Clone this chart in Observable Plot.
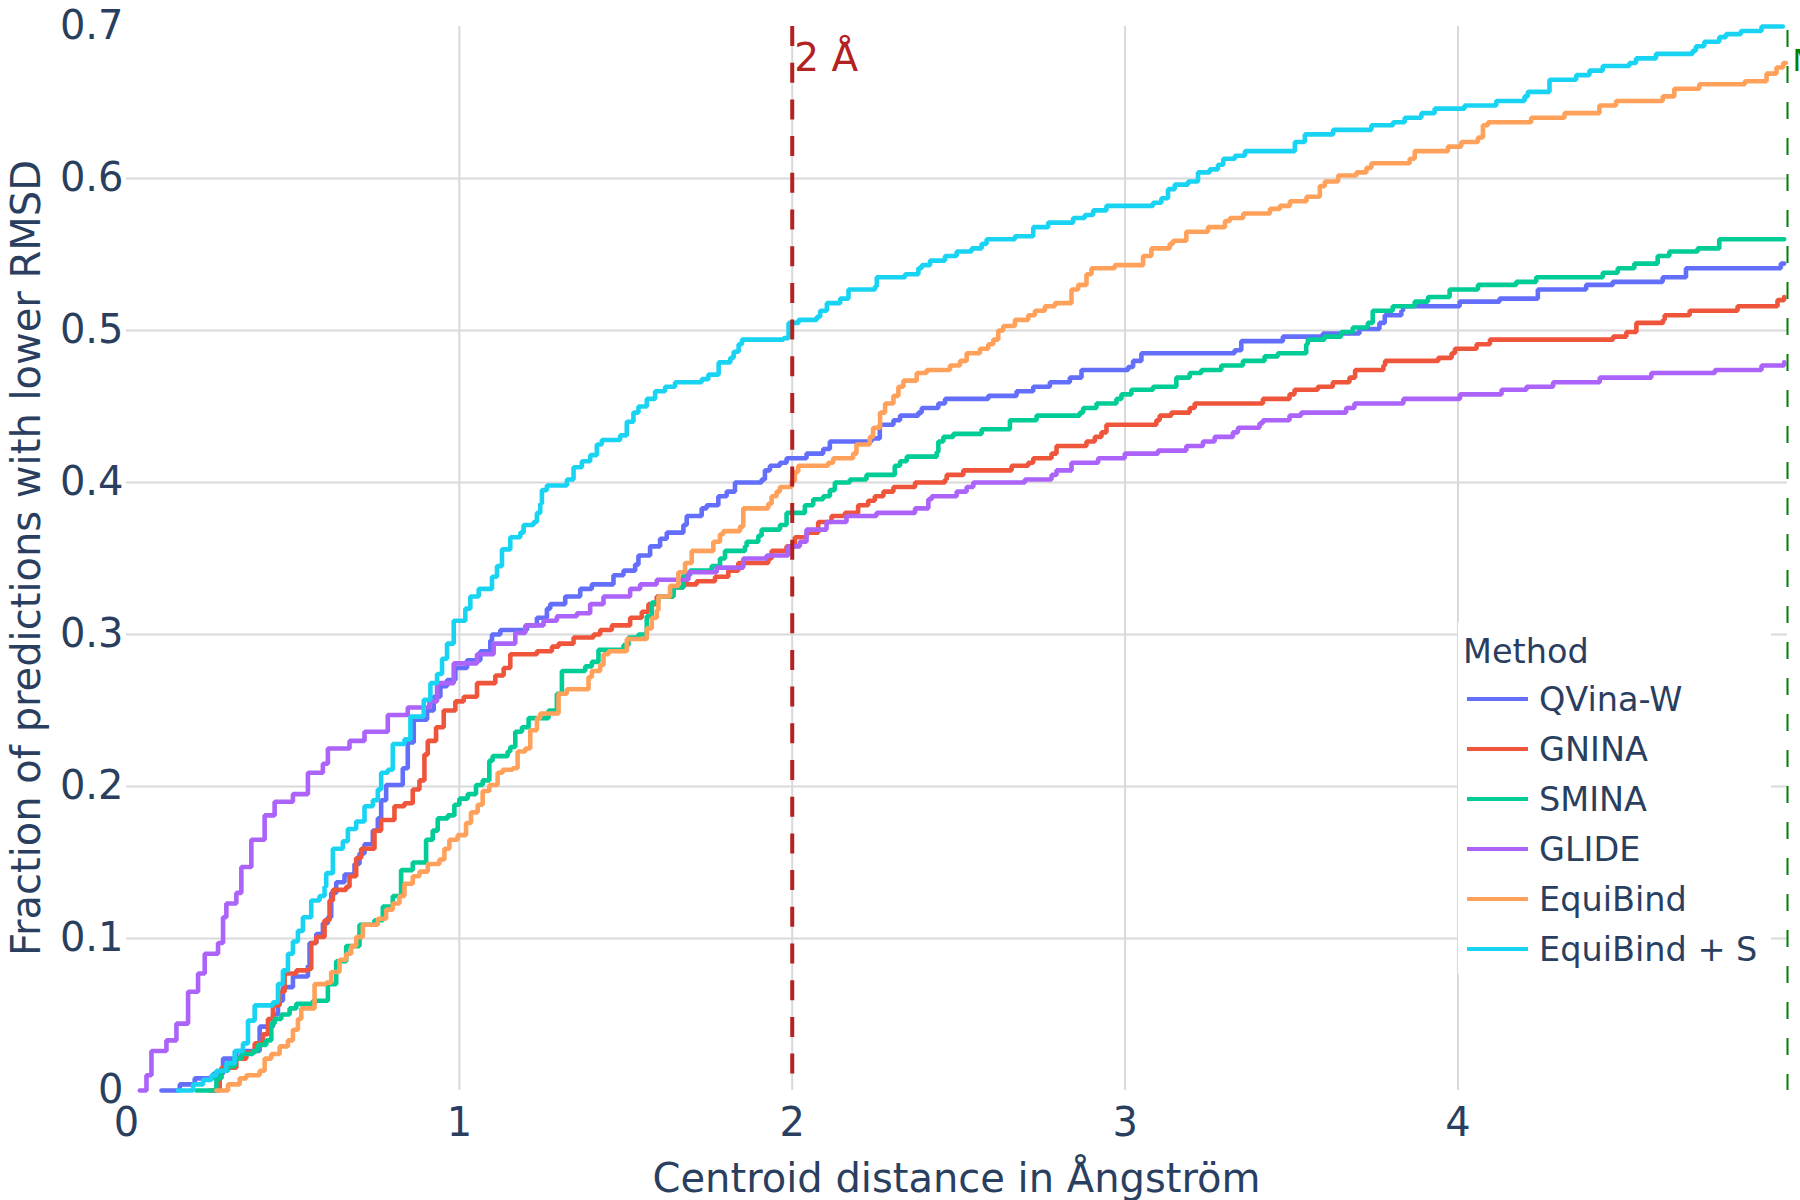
<!DOCTYPE html>
<html>
<head>
<meta charset="utf-8">
<script src="https://cdn.jsdelivr.net/npm/d3@7"></script>
<script src="https://cdn.jsdelivr.net/npm/@observablehq/plot@0.6"></script>
<style>
  html, body { margin: 0; padding: 0; background: white; overflow: hidden; }
  #chart svg { display: block; }
</style>
</head>
<body>
<div id="chart"></div>
<script>
// ---- data ----
const methods = ["QVina-W", "GNINA", "SMINA", "GLIDE", "EquiBind", "EquiBind + S"];
const colors = ["#636EFA", "#EF553B", "#00CC96", "#AB63FA", "#FFA15A", "#19D3F3"];
const xTicks = [0, 1, 2, 3, 4];
const yTicks = [0, 0.1, 0.2, 0.3, 0.4, 0.5, 0.6, 0.7];
const xGrid = [1, 2, 3, 4];
const yGrid = [0.1, 0.2, 0.3, 0.4, 0.5, 0.6];
const xDomain = [0, 4.99];
const yDomain = [0, 0.7];
const thresholds = [
  {x: 2, label: "2 Å"},
  {x: 4.99, label: "Max"}
];

const qvinaW = [[0.105,0],[0.16,0.004],[0.205,0.008],[0.26,0.011],[0.29,0.021],[0.33,0.026],[0.40,0.042],[0.44,0.05],[0.455,0.059],[0.47,0.068],[0.5,0.075],[0.545,0.082],[0.55,0.097],[0.57,0.103],[0.59,0.11],[0.605,0.114],[0.615,0.13],[0.63,0.137],[0.655,0.142],[0.685,0.149],[0.70,0.156],[0.715,0.162],[0.74,0.171],[0.755,0.179],[0.765,0.191],[0.78,0.201],[0.83,0.212],[0.845,0.229],[0.863,0.244],[0.903,0.25],[0.923,0.259],[0.943,0.266],[0.963,0.27],[0.988,0.278],[1.023,0.283],[1.063,0.289],[1.093,0.296],[1.098,0.3],[1.123,0.303],[1.203,0.306],[1.233,0.311],[1.263,0.317],[1.273,0.32],[1.318,0.325],[1.363,0.33],[1.398,0.333],[1.463,0.339],[1.493,0.342],[1.528,0.346],[1.538,0.352],[1.573,0.358],[1.603,0.363],[1.623,0.367],[1.673,0.372],[1.683,0.378],[1.728,0.383],[1.743,0.385],[1.778,0.391],[1.803,0.394],[1.828,0.4],[1.908,0.402],[1.918,0.408],[1.933,0.411],[1.963,0.413],[1.983,0.416],[2.043,0.419],[2.093,0.422],[2.113,0.427],[2.238,0.429],[2.263,0.438],[2.304,0.441],[2.324,0.444],[2.379,0.446],[2.389,0.449],[2.439,0.452],[2.459,0.455],[2.589,0.457],[2.674,0.46],[2.724,0.463],[2.774,0.466],[2.834,0.469],[2.869,0.474],[3.009,0.476],[3.024,0.48],[3.049,0.485],[3.329,0.487],[3.349,0.493],[3.474,0.496],[3.594,0.498],[3.704,0.501],[3.764,0.505],[3.78,0.51],[3.83,0.513],[3.835,0.516],[4.005,0.519],[4.125,0.521],[4.24,0.527],[4.385,0.53],[4.465,0.532],[4.615,0.535],[4.685,0.541],[4.97,0.544],[4.98,0.544]];

const gnina = [[0.25,0],[0.28,0.008],[0.285,0.015],[0.33,0.021],[0.36,0.025],[0.385,0.031],[0.41,0.037],[0.425,0.047],[0.44,0.056],[0.46,0.065],[0.475,0.077],[0.51,0.079],[0.545,0.08],[0.555,0.097],[0.57,0.101],[0.595,0.112],[0.61,0.125],[0.62,0.132],[0.66,0.134],[0.67,0.141],[0.69,0.153],[0.705,0.159],[0.745,0.171],[0.765,0.178],[0.805,0.187],[0.835,0.189],[0.86,0.198],[0.88,0.204],[0.895,0.221],[0.905,0.23],[0.93,0.239],[0.953,0.25],[0.988,0.256],[1.013,0.259],[1.053,0.268],[1.108,0.273],[1.133,0.278],[1.153,0.287],[1.233,0.289],[1.278,0.292],[1.298,0.294],[1.343,0.298],[1.403,0.3],[1.423,0.303],[1.458,0.306],[1.513,0.311],[1.548,0.315],[1.568,0.32],[1.593,0.325],[1.643,0.331],[1.673,0.333],[1.713,0.335],[1.768,0.338],[1.808,0.342],[1.838,0.347],[1.928,0.35],[1.938,0.355],[1.983,0.358],[2.008,0.364],[2.043,0.367],[2.078,0.374],[2.118,0.378],[2.158,0.38],[2.198,0.385],[2.228,0.388],[2.248,0.391],[2.274,0.394],[2.304,0.397],[2.369,0.4],[2.459,0.402],[2.464,0.405],[2.514,0.408],[2.659,0.411],[2.709,0.413],[2.724,0.416],[2.779,0.419],[2.794,0.424],[2.884,0.427],[2.909,0.43],[2.929,0.433],[2.944,0.438],[3.094,0.441],[3.104,0.444],[3.139,0.446],[3.194,0.449],[3.209,0.452],[3.414,0.455],[3.494,0.458],[3.509,0.461],[3.579,0.463],[3.624,0.466],[3.674,0.469],[3.691,0.474],[3.776,0.477],[3.781,0.48],[3.941,0.482],[3.981,0.485],[3.991,0.488],[4.056,0.491],[4.096,0.494],[4.466,0.496],[4.506,0.499],[4.536,0.505],[4.616,0.507],[4.621,0.51],[4.696,0.513],[4.84,0.516],[4.96,0.52],[4.98,0.522]];

const smina = [[0.21,0],[0.27,0.008],[0.285,0.013],[0.305,0.016],[0.325,0.021],[0.345,0.024],[0.38,0.026],[0.395,0.03],[0.42,0.033],[0.435,0.044],[0.445,0.047],[0.465,0.05],[0.49,0.054],[0.51,0.057],[0.56,0.059],[0.605,0.07],[0.63,0.085],[0.66,0.095],[0.70,0.109],[0.745,0.112],[0.77,0.121],[0.80,0.128],[0.825,0.145],[0.86,0.15],[0.90,0.165],[0.92,0.171],[0.935,0.179],[0.965,0.181],[0.985,0.188],[1.0,0.192],[1.025,0.195],[1.05,0.201],[1.07,0.204],[1.09,0.217],[1.10,0.22],[1.145,0.223],[1.153,0.226],[1.168,0.236],[1.188,0.239],[1.208,0.245],[1.268,0.25],[1.293,0.261],[1.308,0.276],[1.378,0.279],[1.398,0.282],[1.418,0.29],[1.493,0.293],[1.508,0.298],[1.538,0.3],[1.563,0.312],[1.578,0.321],[1.598,0.325],[1.643,0.331],[1.673,0.339],[1.693,0.342],[1.758,0.345],[1.783,0.35],[1.798,0.355],[1.858,0.358],[1.863,0.361],[1.898,0.365],[1.908,0.369],[1.963,0.372],[1.983,0.38],[2.038,0.385],[2.063,0.389],[2.093,0.391],[2.113,0.395],[2.128,0.4],[2.173,0.402],[2.223,0.405],[2.308,0.411],[2.324,0.414],[2.344,0.417],[2.434,0.42],[2.439,0.427],[2.454,0.43],[2.484,0.432],[2.569,0.435],[2.654,0.441],[2.734,0.444],[2.864,0.446],[2.874,0.449],[2.914,0.452],[2.974,0.455],[2.989,0.458],[3.019,0.461],[3.084,0.463],[3.154,0.469],[3.194,0.472],[3.229,0.474],[3.289,0.477],[3.354,0.48],[3.419,0.483],[3.459,0.485],[3.544,0.491],[3.549,0.494],[3.599,0.496],[3.649,0.499],[3.684,0.502],[3.729,0.505],[3.744,0.513],[3.804,0.516],[3.87,0.519],[3.91,0.522],[3.975,0.527],[4.06,0.53],[4.175,0.532],[4.235,0.535],[4.435,0.538],[4.48,0.541],[4.53,0.544],[4.6,0.549],[4.635,0.552],[4.72,0.554],[4.785,0.56],[4.98,0.56]];

const glide = [[0.04,0],[0.06,0.01],[0.075,0.026],[0.12,0.033],[0.15,0.044],[0.185,0.065],[0.215,0.077],[0.235,0.09],[0.275,0.097],[0.29,0.114],[0.30,0.123],[0.33,0.13],[0.345,0.147],[0.375,0.165],[0.415,0.181],[0.445,0.19],[0.5,0.195],[0.545,0.209],[0.59,0.215],[0.605,0.225],[0.67,0.23],[0.715,0.236],[0.785,0.247],[0.845,0.252],[0.91,0.256],[0.933,0.268],[0.983,0.281],[1.053,0.287],[1.103,0.294],[1.168,0.301],[1.198,0.306],[1.253,0.309],[1.293,0.312],[1.353,0.314],[1.393,0.32],[1.433,0.325],[1.513,0.33],[1.543,0.333],[1.593,0.336],[1.688,0.341],[1.773,0.344],[1.853,0.35],[1.923,0.352],[1.988,0.358],[2.023,0.361],[2.043,0.369],[2.103,0.374],[2.163,0.378],[2.253,0.38],[2.369,0.383],[2.409,0.389],[2.419,0.391],[2.494,0.394],[2.524,0.397],[2.544,0.4],[2.699,0.402],[2.779,0.405],[2.794,0.408],[2.839,0.413],[2.919,0.416],[2.999,0.419],[3.099,0.421],[3.184,0.424],[3.234,0.427],[3.269,0.43],[3.324,0.433],[3.339,0.436],[3.404,0.439],[3.414,0.441],[3.494,0.444],[3.529,0.446],[3.664,0.449],[3.689,0.452],[3.836,0.455],[4.006,0.458],[4.131,0.461],[4.206,0.463],[4.286,0.466],[4.426,0.469],[4.581,0.472],[4.772,0.474],[4.912,0.477],[4.98,0.479]];

const equiBind = [[0.27,0],[0.305,0.004],[0.34,0.008],[0.36,0.01],[0.40,0.013],[0.415,0.021],[0.435,0.024],[0.46,0.029],[0.485,0.033],[0.50,0.04],[0.515,0.047],[0.525,0.054],[0.565,0.07],[0.60,0.071],[0.615,0.078],[0.64,0.086],[0.66,0.09],[0.675,0.095],[0.69,0.101],[0.71,0.109],[0.755,0.113],[0.78,0.119],[0.80,0.123],[0.82,0.128],[0.835,0.136],[0.86,0.141],[0.88,0.144],[0.905,0.149],[0.94,0.152],[0.955,0.159],[0.97,0.165],[0.995,0.168],[1.02,0.176],[1.035,0.183],[1.055,0.188],[1.07,0.197],[1.09,0.201],[1.115,0.209],[1.13,0.211],[1.16,0.212],[1.175,0.223],[1.198,0.225],[1.213,0.237],[1.233,0.245],[1.243,0.248],[1.298,0.261],[1.323,0.264],[1.388,0.272],[1.398,0.276],[1.423,0.28],[1.433,0.287],[1.448,0.289],[1.503,0.297],[1.563,0.304],[1.578,0.311],[1.593,0.316],[1.598,0.325],[1.633,0.332],[1.658,0.341],[1.678,0.347],[1.698,0.355],[1.763,0.361],[1.783,0.366],[1.793,0.368],[1.843,0.371],[1.853,0.383],[1.928,0.386],[1.938,0.391],[1.953,0.394],[1.963,0.397],[1.998,0.401],[2.008,0.407],[2.018,0.411],[2.108,0.413],[2.123,0.416],[2.183,0.419],[2.193,0.425],[2.233,0.43],[2.243,0.436],[2.264,0.446],[2.279,0.452],[2.304,0.457],[2.319,0.463],[2.334,0.467],[2.374,0.472],[2.404,0.474],[2.474,0.477],[2.504,0.48],[2.524,0.485],[2.564,0.488],[2.589,0.491],[2.604,0.494],[2.619,0.5],[2.634,0.503],[2.669,0.507],[2.709,0.51],[2.729,0.513],[2.759,0.516],[2.789,0.518],[2.839,0.527],[2.859,0.53],[2.884,0.537],[2.899,0.541],[2.969,0.543],[3.054,0.549],[3.079,0.554],[3.134,0.557],[3.144,0.559],[3.184,0.565],[3.249,0.568],[3.3,0.572],[3.315,0.574],[3.355,0.577],[3.435,0.58],[3.465,0.582],[3.495,0.585],[3.545,0.588],[3.585,0.595],[3.6,0.598],[3.64,0.602],[3.695,0.604],[3.725,0.607],[3.74,0.61],[3.855,0.613],[3.87,0.618],[3.97,0.621],[4.01,0.624],[4.06,0.627],[4.075,0.635],[4.09,0.637],[4.22,0.64],[4.32,0.643],[4.425,0.648],[4.475,0.651],[4.615,0.654],[4.65,0.659],[4.725,0.662],[4.862,0.664],[4.927,0.669],[4.957,0.673],[4.977,0.676],[4.985,0.676]];

const equiBindS = [[0.155,0],[0.20,0.004],[0.23,0.007],[0.255,0.01],[0.27,0.013],[0.30,0.018],[0.325,0.026],[0.35,0.031],[0.365,0.046],[0.385,0.056],[0.44,0.058],[0.455,0.07],[0.47,0.079],[0.485,0.09],[0.50,0.098],[0.515,0.105],[0.53,0.114],[0.555,0.125],[0.58,0.128],[0.595,0.134],[0.60,0.143],[0.62,0.159],[0.65,0.164],[0.665,0.172],[0.69,0.177],[0.715,0.187],[0.74,0.191],[0.755,0.198],[0.765,0.209],[0.785,0.211],[0.80,0.228],[0.835,0.231],[0.853,0.246],[0.893,0.257],[0.913,0.268],[0.933,0.274],[0.948,0.284],[0.963,0.294],[0.983,0.309],[1.018,0.317],[1.033,0.325],[1.058,0.33],[1.098,0.338],[1.113,0.345],[1.128,0.356],[1.153,0.364],[1.183,0.367],[1.193,0.372],[1.223,0.374],[1.233,0.38],[1.243,0.386],[1.248,0.395],[1.263,0.398],[1.323,0.402],[1.343,0.41],[1.368,0.414],[1.393,0.418],[1.413,0.425],[1.428,0.428],[1.483,0.431],[1.503,0.44],[1.523,0.446],[1.538,0.45],[1.563,0.455],[1.588,0.46],[1.618,0.463],[1.648,0.466],[1.728,0.468],[1.748,0.471],[1.779,0.479],[1.814,0.482],[1.824,0.486],[1.839,0.491],[1.849,0.494],[1.974,0.495],[1.989,0.505],[2.019,0.507],[2.074,0.509],[2.084,0.513],[2.104,0.518],[2.144,0.521],[2.169,0.527],[2.249,0.529],[2.254,0.535],[2.339,0.537],[2.379,0.541],[2.389,0.543],[2.414,0.546],[2.459,0.549],[2.494,0.552],[2.539,0.554],[2.569,0.557],[2.584,0.56],[2.669,0.562],[2.724,0.568],[2.769,0.571],[2.844,0.574],[2.879,0.576],[2.904,0.579],[2.944,0.582],[3.084,0.584],[3.109,0.587],[3.129,0.593],[3.149,0.596],[3.189,0.598],[3.219,0.604],[3.254,0.606],[3.279,0.609],[3.295,0.613],[3.33,0.615],[3.36,0.618],[3.51,0.624],[3.54,0.629],[3.625,0.632],[3.74,0.635],[3.805,0.637],[3.84,0.64],[3.89,0.643],[3.93,0.646],[4.02,0.648],[4.115,0.651],[4.2,0.654],[4.21,0.657],[4.275,0.665],[4.355,0.668],[4.395,0.671],[4.435,0.674],[4.515,0.676],[4.535,0.679],[4.595,0.682],[4.705,0.684],[4.715,0.687],[4.74,0.69],[4.785,0.693],[4.805,0.695],[4.85,0.697],[4.912,0.7],[4.976,0.7]];

const seriesValues = [qvinaW, gnina, smina, glide, equiBind, equiBindS];

// ---- build table ----
const rows = [];
methods.forEach((m, i) => seriesValues[i].forEach(([x, y]) => rows.push({method: m, x, y})));

const W = 1800, H = 1200;
const mL = 126, mR = 13, mT = 26, mB = 110;
const textColor = "#2a3f5f";
const font = "DejaVu Sans, Verdana, sans-serif";

const plot = Plot.plot({
  width: W,
  height: H,
  marginLeft: mL,
  marginRight: mR,
  marginTop: mT,
  marginBottom: mB,
  style: {fontFamily: font, color: textColor, background: "white", overflow: "hidden"},
  x: {domain: xDomain},
  y: {domain: yDomain},
  color: {domain: methods, range: colors},
  marks: [
    Plot.gridX(xGrid, {stroke: "#d9d9d9", strokeOpacity: 1, strokeWidth: 2}),
    Plot.gridY(yGrid, {stroke: "#d9d9d9", strokeOpacity: 1, strokeWidth: 2}),
    Plot.axisX({ticks: xTicks, tickSize: 0, tickPadding: 17, fontSize: 40, tickFormat: d => String(d), label: null}),
    Plot.axisY({ticks: yTicks, tickSize: 0, tickPadding: 3, fontSize: 40, tickFormat: d => d === 0 ? "0" : d3.format(".1f")(d), label: null}),
    ...methods.map(m => Plot.line(rows.filter(r => r.method === m), {
      x: "x", y: "y", stroke: "method", curve: "step-after", strokeWidth: 4.6, strokeLinejoin: "miter"
    })),
    Plot.ruleX([thresholds[0]], {x: "x", stroke: "#B22222", strokeWidth: 4, strokeDasharray: "20,16.7"}),
    Plot.ruleX([thresholds[1]], {x: "x", stroke: "#008000", strokeWidth: 2, strokeDasharray: "17,19", strokeDashoffset: 32}),
    Plot.text([thresholds[0]], {x: "x", text: "label", frameAnchor: "top", textAnchor: "start", lineAnchor: "bottom", dx: 2, dy: 44, fill: "#B22222", fontSize: 39}),
    Plot.text([thresholds[1]], {x: "x", text: "label", frameAnchor: "top", textAnchor: "start", lineAnchor: "bottom", dx: 5, dy: 44, fill: "#008000", fontSize: 30})
  ]
});

document.getElementById("chart").appendChild(plot);

// ---- titles and legend inside the SVG ----
const svg = d3.select(plot);
svg.append("text")
  .attr("x", (mL + (W - mR)) / 2).attr("y", 1192)
  .attr("text-anchor", "middle").attr("fill", textColor)
  .style("font-family", font).style("font-size", "40px")
  .text("Centroid distance in Ångström");
svg.append("text")
  .attr("transform", `translate(40,${(mT + (H - mB)) / 2}) rotate(-90)`)
  .attr("text-anchor", "middle").attr("fill", textColor)
  .style("font-family", font).style("font-size", "40px")
  .text("Fraction of predictions with lower RMSD");

const lg = svg.append("g").attr("text-anchor", "start");
lg.append("rect").attr("x", 1458).attr("y", 622).attr("width", 313).attr("height", 352).attr("fill", "white");
lg.append("text").attr("x", 1463).attr("y", 663).attr("fill", textColor).attr("text-anchor", "start")
  .style("font-family", font).style("font-size", "33.5px").text("Method");
methods.forEach((m, i) => {
  const y = 699 + 50 * i;
  lg.append("line").attr("x1", 1467).attr("x2", 1528).attr("y1", y).attr("y2", y)
    .attr("stroke", colors[i]).attr("stroke-width", 4);
  lg.append("text").attr("x", 1539).attr("y", y + 12).attr("fill", textColor).attr("text-anchor", "start")
    .style("font-family", font).style("font-size", "33.5px").text(m);
});
</script>
</body>
</html>
